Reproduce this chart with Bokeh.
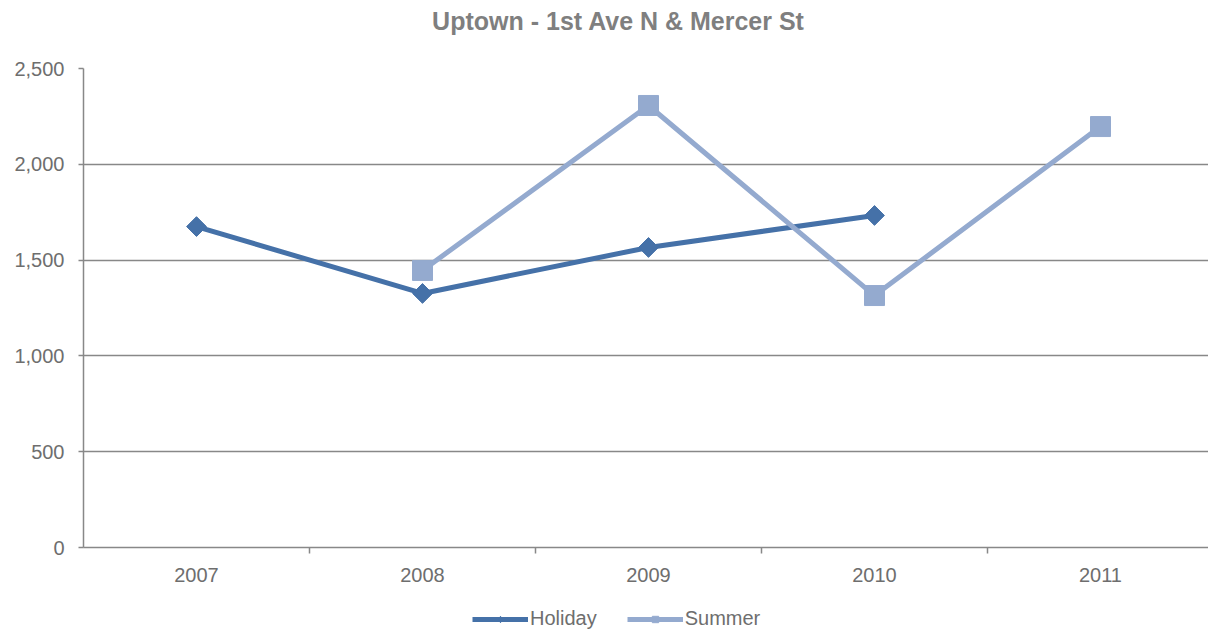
import math
from bokeh.plotting import figure
from bokeh.layouts import column
from bokeh.models import (Range1d, FixedTicker, NumeralTickFormatter, Legend, LegendItem,
                          ColumnDataSource, Label)
from bokeh.embed import file_html
from bokeh.resources import INLINE

categories = ["2007", "2008", "2009", "2010", "2011"]
holiday_years = ["2007", "2008", "2009", "2010"]
holiday_values = [1675, 1326, 1566, 1733]
summer_years = ["2008", "2009", "2010", "2011"]
summer_values = [1446, 2307, 1315, 2197]
y_ticks = [0, 500, 1000, 1500, 2000, 2500]
title_text = "Uptown - 1st Ave N & Mercer St"
series_names = ["Holiday", "Summer"]

HOL = "#4571A8"
SUM = "#94AACF"
GRAY = "#888888"
TXT = "#6E6E6E"
FONT = "Liberation Sans"

pos = {c: i + 0.5 for i, c in enumerate(categories)}


def bare(h):
    f = figure(width=1208, height=h, output_backend="svg", toolbar_location=None,
               x_range=Range1d(0, 1), y_range=Range1d(0, 1),
               x_axis_location=None, y_axis_location=None,
               min_border_left=0, min_border_right=0, min_border_top=0, min_border_bottom=0)
    f.title = None
    f.outline_line_color = None
    f.xgrid.visible = False
    f.ygrid.visible = False
    return f


# ---- title strip (its frame is aligned with the chart frame, which starts at x=83)
tf = bare(40)
tf.add_layout(Label(x=535, y=20, x_units="screen", y_units="screen", text=title_text,
                    text_align="center", text_baseline="middle", text_font=FONT,
                    text_font_size="25px", text_font_style="bold", text_color="#7F7F7F"))

# ---- main chart
p = figure(width=1208, height=549, output_backend="svg", toolbar_location=None,
           x_range=Range1d(0, 1125 / 226), y_range=Range1d(0, 2500),
           min_border_left=83, min_border_right=0, min_border_top=28, min_border_bottom=42)
p.title = None
p.outline_line_color = None
p.background_fill_color = "white"
p.border_fill_color = "white"

xa = p.xaxis[0]
ya = p.yaxis[0]

xa.ticker = FixedTicker(ticks=[pos[c] for c in categories], minor_ticks=[1, 2, 3, 4])
xa.major_label_overrides = {pos[c]: c for c in categories}
xa.major_tick_out = 0
xa.major_tick_in = 0
xa.minor_tick_out = 6
xa.minor_tick_in = 0
xa.minor_tick_line_color = GRAY
xa.minor_tick_line_width = 1.5
xa.axis_line_color = GRAY
xa.axis_line_width = 1.5
xa.major_label_standoff = 14
xa.major_label_text_font = FONT
xa.major_label_text_font_size = "20px"
xa.major_label_text_color = TXT

ya.ticker = FixedTicker(ticks=y_ticks)
ya.formatter = NumeralTickFormatter(format="0,0")
ya.minor_tick_line_color = None
ya.major_tick_out = 5
ya.major_tick_in = 0
ya.major_tick_line_color = GRAY
ya.major_tick_line_width = 1.5
ya.axis_line_color = GRAY
ya.axis_line_width = 1.5
ya.major_label_standoff = 14
ya.major_label_text_font = FONT
ya.major_label_text_font_size = "20px"
ya.major_label_text_color = TXT

p.xgrid.grid_line_color = None
p.ygrid.ticker = FixedTicker(ticks=y_ticks[1:])
p.ygrid.grid_line_color = GRAY
p.ygrid.grid_line_width = 1.5

hsrc = ColumnDataSource(dict(x=[pos[c] for c in holiday_years], y=holiday_values))
ssrc = ColumnDataSource(dict(x=[pos[c] for c in summer_years], y=summer_values))

p.line("x", "y", source=hsrc, line_color=HOL, line_width=5)
p.scatter("x", "y", source=hsrc, marker="square", size=14, angle=math.pi / 4,
          fill_color=HOL, line_color=HOL)
p.line("x", "y", source=ssrc, line_color=SUM, line_width=5)
p.scatter("x", "y", source=ssrc, marker="square", size=20, fill_color=SUM, line_color=SUM)

# ---- legend strip (same sources; points fall outside this strip's 0..1 ranges)
lf = bare(41)
l1 = lf.line("x", "y", source=hsrc, line_color=HOL, line_width=5)
m1 = lf.scatter("x", "y", source=hsrc, marker="diamond", size=14, fill_color=HOL, line_color=HOL)
l2 = lf.line("x", "y", source=ssrc, line_color=SUM, line_width=5)
m2 = lf.scatter("x", "y", source=ssrc, marker="square", size=11, fill_color=SUM, line_color=SUM)
legend = Legend(items=[LegendItem(label=series_names[0], renderers=[l1, m1]),
                       LegendItem(label=series_names[1], renderers=[l2, m2])],
                orientation="horizontal", location=(389, 0),
                label_text_font=FONT, label_text_font_size="20px", label_text_color=TXT,
                glyph_width=56, glyph_height=16, label_height=16, label_standoff=2, spacing=30,
                border_line_color=None, background_fill_alpha=0, padding=0, margin=0)
lf.add_layout(legend, "center")

layout = column(tf, p, lf, spacing=0)
open("out.html", "w").write(file_html(layout, INLINE))
